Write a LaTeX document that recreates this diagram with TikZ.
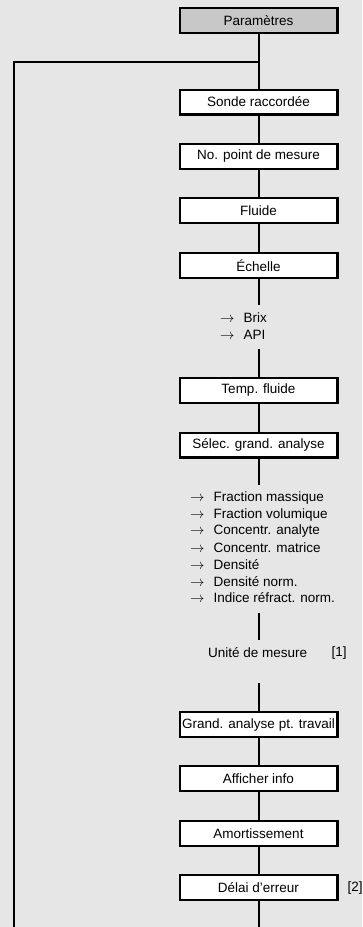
\documentclass[tikz,border=0pt]{standalone}
\usepackage{fontspec}
\setmainfont{Liberation Sans}
\definecolor{pagebg}{HTML}{E6E6E6}
\definecolor{headgrey}{HTML}{C8C8C8}
\begin{document}
\begin{tikzpicture}[x=1pt,y=-1pt,
  every node/.style={font=\fontsize{13.5}{16.7}\selectfont},
  menubox/.style={draw, line width=2.2pt, fill=white, minimum width=157.8pt,
                  minimum height=24.8pt, inner sep=0pt},
  headbox/.style={menubox, fill=headgrey},
  link/.style={line width=2pt},
  item/.style={anchor=west, inner sep=0pt},
  note/.style={inner sep=0pt}]
% background and page size
\fill[pagebg] (0,0) rectangle (362,927);
\useasboundingbox (0,0) rectangle (362,927);

% menu boxes
\node[headbox] (par)  at (258.5,20.5)  {Paramètres};
\node[menubox] (sonde) at (258.5,102)  {Sonde raccordée};
\node[menubox] (npm)  at (258.5,156.5) {No. point de mesure};
\node[menubox] (flu)  at (258.5,210.5) {Fluide};
\node[menubox] (ech)  at (258.5,265.5) {Échelle};
\node[menubox] (temp) at (258.5,390.5) {Temp. fluide};
\node[menubox] (sel)  at (258.5,445)   {Sélec. grand. analyse};
\node[menubox] (gapt) at (258.5,724.5) {Grand. analyse pt. travail};
\node[menubox] (aff)  at (258.5,778.5) {Afficher info};
\node[menubox] (amo)  at (258.5,833.5) {Amortissement};
\node[menubox] (del)  at (258.5,887.5) {Délai d'erreur};

% option lists
\node[item] (brix) at (220,318) {$\rightarrow$\hspace{9pt}Brix};
\node[item] (api)  at (220,335) {$\rightarrow$\hspace{9pt}API};

\node[item] (o1) at (190,498) {$\rightarrow$\hspace{9pt}Fraction massique};
\node[item] (o2) at (190,515) {$\rightarrow$\hspace{9pt}Fraction volumique};
\node[item] (o3) at (190,531.5) {$\rightarrow$\hspace{9pt}Concentr. analyte};
\node[item] (o4) at (190,548) {$\rightarrow$\hspace{9pt}Concentr. matrice};
\node[item] (o5) at (190,565) {$\rightarrow$\hspace{9pt}Densité};
\node[item] (o6) at (190,581.5) {$\rightarrow$\hspace{9pt}Densité norm.};
\node[item] (o7) at (190,598) {$\rightarrow$\hspace{9pt}Indice réfract. norm.};

\node[item] (unit) at (208,653) {Unité de mesure};
\node[item] (n1) at (331.5,653) {[1]};
\node[item] (n2) at (347.5,887.5) {[2]};

% free ends of the vertical links
\coordinate (junc) at (258.5,62);
\coordinate (e1) at (258.5,305);
\coordinate (s2) at (258.5,349);
\coordinate (e2) at (258.5,485);
\coordinate (s3) at (258.5,613);
\coordinate (e3) at (258.5,640);
\coordinate (s4) at (258.5,683);
\coordinate (bot) at (258.5,927);
\coordinate (lefttop) at (14,62);
\coordinate (leftbot) at (14,927);

% links
\draw[link] (par) -- (sonde);
\draw[link] (sonde) -- (npm);
\draw[link] (npm) -- (flu);
\draw[link] (flu) -- (ech);
\draw[link] (ech) -- (e1);
\draw[link] (s2) -- (temp);
\draw[link] (temp) -- (sel);
\draw[link] (sel) -- (e2);
\draw[link] (s3) -- (e3);
\draw[link] (s4) -- (gapt);
\draw[link] (gapt) -- (aff);
\draw[link] (aff) -- (amo);
\draw[link] (amo) -- (del);
\draw[link] (del) -- (bot);
\draw[link] (junc) -- (lefttop) -- (leftbot);
\end{tikzpicture}
\end{document}
